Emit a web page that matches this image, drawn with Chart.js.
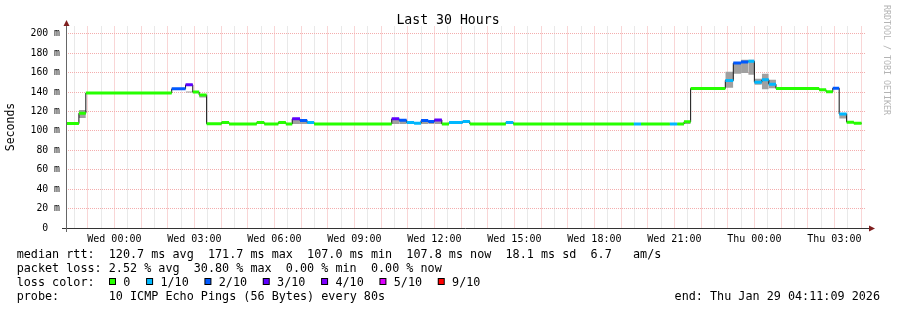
<!DOCTYPE html>
<html><head><meta charset="utf-8">
<script src="https://cdn.jsdelivr.net/npm/chart.js@4"></script>
<style>html,body{margin:0;padding:0;background:#fff;}</style>
</head><body>
<canvas id="c" width="897" height="310"></canvas>
<script>
// ---- time axis (hours relative to Wed 00:00) ----
const timeRange = [-1.814, 28.186];
const timeLabelHours = [0, 3, 6, 9, 12, 15, 18, 21, 24, 27];
const timeLabels = ['Wed 00:00','Wed 03:00','Wed 06:00','Wed 09:00','Wed 12:00','Wed 15:00','Wed 18:00','Wed 21:00','Thu 00:00','Thu 03:00'];

// ---- median RTT segments: boundaries (hours), median (ms), loss (of 10) ----
const segBounds = [-1.79,-1.33,-1.07,2.15,2.67,2.94,3.18,3.46,4.02,4.30,5.34,5.62,6.15,6.43,6.67,6.96,7.23,7.49,
  10.40,10.68,10.96,11.24,11.50,11.77,12.00,12.28,12.55,13.06,13.33,14.68,14.96,15.21,19.48,19.75,20.83,21.11,
  21.36,21.61,22.91,23.21,23.50,23.77,24.00,24.28,24.54,24.81,26.43,26.69,26.94,27.18,27.46,27.73,28.02];
const segMedian = [107.5,118.2,139.0,143.3,147.4,140.0,137.0,107.3,108.6,107.2,108.6,107.2,108.6,107.2,112.4,110.6,108.6,107.2,
  112.4,110.9,108.6,107.9,110.6,109.6,111.3,107.2,108.6,109.6,107.2,108.6,107.2,107.0,107.0,107.0,107.0,107.0,
  109.3,143.6,151.9,169.8,171.0,171.7,150.2,152.6,148.1,143.6,142.3,140.2,144.0,117.5,109.0,107.8];
const segLoss = [0,0,0,2,3,0,0,0,0,0,0,0,0,0,3,2,1,0,
  3,2,1,1,2,2,3,0,1,1,0,1,0,0,1,0,1,0,
  0,0,1,2,2,1,1,1,1,0,0,0,2,1,0,0];
// ---- smoke (spread of the pings) ----
const smokeLo = [null,113.4,null,null,139.5,null,134.5,null,null,null,null,null,null,null,107.2,107.2,107.2,null,
  107.2,107.2,107.2,null,107.2,107.2,107.2,null,107.2,null,null,107.2,null,null,null,null,null,null,
  107.2,null,144.3,158.8,159.5,157.7,147.4,143.0,144.0,null,null,null,null,112.7,null,null];
const smokeHi = [null,121.6,null,null,140.6,null,137.0,null,null,null,null,null,null,null,112.0,110.2,108.4,null,
  112.0,110.5,108.4,null,110.2,109.4,111.0,null,108.4,null,null,108.4,null,null,null,null,null,null,
  109.0,null,160.8,170.1,173.2,173.2,153.6,158.8,152.6,null,null,null,null,117.5,null,null];

// ---- legend ----
const lossLevels = [0,1,2,3,4,5,9];
const lossColors = ['#26ff00','#00b8ff','#0059ff','#5e00ff','#7e00ff','#dd00ff','#ff0000'];
const lossLabels = ['0','1/10','2/10','3/10','4/10','5/10','9/10'];
const titleText = 'Last 30 Hours';
const yTitle = 'Seconds';
const statsLine = 'median rtt:  120.7 ms avg  171.7 ms max  107.0 ms min  107.8 ms now  18.1 ms sd  6.7   am/s';
const lossLine = 'packet loss: 2.52 % avg  30.80 % max  0.00 % min  0.00 % now';
const lossColorLabel = 'loss color:';
const probeLine = 'probe:       10 ICMP Echo Pings (56 Bytes) every 80s';
const endLine = 'end: Thu Jan 29 04:11:09 2026';
const watermark = 'RRDTOOL / TOBI OETIKER';

const MONO = '"DejaVu Sans Mono", monospace';
const RED_GRID = '#f4adad';
const GREY_GRID = '#d3d3d3';

function segPoints(vals) {
  const pts = [];
  for (let i = 0; i < vals.length; i++) {
    if (vals[i] == null) { pts.push({x: segBounds[i], y: null}, {x: segBounds[i+1], y: null}, {x: segBounds[i+1], y: null}); continue; }
    pts.push({x: segBounds[i], y: vals[i]}, {x: segBounds[i+1], y: vals[i]}, {x: segBounds[i+1], y: null});
  }
  return pts;
}
function lossColor(l) { return lossColors[lossLevels.indexOf(l)]; }

const stepPts = segMedian.map((v, i) => ({x: segBounds[i], y: v}));
stepPts.push({x: segBounds[segBounds.length-1], y: segMedian[segMedian.length-1]});

const extras = {
  id: 'extras',
  afterDraw(chart) {
    const ctx = chart.ctx, a = chart.chartArea;
    ctx.save();
    // axes
    ctx.strokeStyle = '#333'; ctx.lineWidth = 1;
    ctx.beginPath(); ctx.moveTo(62, Math.round(a.bottom) + 0.5); ctx.lineTo(869, Math.round(a.bottom) + 0.5); ctx.stroke();
    ctx.strokeStyle = '#666';
    ctx.beginPath(); ctx.moveTo(Math.round(a.left) + 0.5, 25); ctx.lineTo(Math.round(a.left) + 0.5, a.bottom + 4); ctx.stroke();
    // arrows
    ctx.fillStyle = '#7f1f1f';
    const ax = Math.round(a.left) + 0.5, by = Math.round(a.bottom) + 0.5;
    ctx.beginPath(); ctx.moveTo(ax, 20); ctx.lineTo(ax - 3, 26); ctx.lineTo(ax + 3, 26); ctx.closePath(); ctx.fill();
    ctx.beginPath(); ctx.moveTo(875, by); ctx.lineTo(869, by - 3); ctx.lineTo(869, by + 3); ctx.closePath(); ctx.fill();
    // title
    ctx.fillStyle = '#000';
    ctx.font = '13.2px ' + MONO; ctx.textAlign = 'center'; ctx.textBaseline = 'alphabetic';
    ctx.fillText(titleText, 448, 24);
    // y title
    ctx.save(); ctx.translate(11, 127); ctx.rotate(-Math.PI / 2);
    ctx.font = '11.5px ' + MONO; ctx.textAlign = 'center'; ctx.textBaseline = 'middle';
    ctx.fillText(yTitle, 0, 0); ctx.restore();
    // watermark
    ctx.save(); ctx.translate(884, 5); ctx.rotate(Math.PI / 2);
    ctx.font = '8.3px ' + MONO; ctx.fillStyle = '#b4b4b4'; ctx.textAlign = 'left'; ctx.textBaseline = 'alphabetic';
    ctx.fillText(watermark, 0, 0); ctx.restore();
    // legend
    ctx.font = '11.77px ' + MONO; ctx.textAlign = 'left'; ctx.textBaseline = 'alphabetic'; ctx.fillStyle = '#000';
    ctx.fillText(statsLine, 16.7, 258);
    ctx.fillText(lossLine, 16.7, 272);
    ctx.fillText(lossColorLabel, 16.7, 286);
    let x = 109;
    for (let i = 0; i < lossColors.length; i++) {
      ctx.fillStyle = '#000'; ctx.fillRect(x, 278, 7, 7);
      ctx.fillStyle = lossColors[i]; ctx.fillRect(x + 1, 279, 5, 5);
      ctx.fillStyle = '#000'; ctx.fillText(lossLabels[i], x + 14.3, 286);
      x = x + 14.3 + ctx.measureText(lossLabels[i]).width + 15.7;
    }
    ctx.fillText(probeLine, 16.7, 300);
    ctx.textAlign = 'right'; ctx.fillText(endLine, 880, 300);
    ctx.restore();
  }
};

Chart.defaults.font.family = MONO;
new Chart(document.getElementById('c'), {
  type: 'line',
  data: {
    datasets: [
      { data: segPoints(smokeLo), borderWidth: 0, pointRadius: 0, fill: false, order: 4, spanGaps: false },
      { data: segPoints(smokeHi), borderWidth: 0, pointRadius: 0, fill: '-1', backgroundColor: '#a0a0a0', order: 3, spanGaps: false },
      { data: stepPts, stepped: 'before', borderColor: '#111', borderWidth: 1, pointRadius: 0, fill: false, order: 2 },
      { data: segPoints(segMedian), borderWidth: 3, borderCapStyle: 'butt', pointRadius: 0, fill: false, order: 1, spanGaps: false,
        borderColor: '#26ff00',
        segment: { borderColor: c => lossColor(segLoss[Math.floor(c.p0DataIndex / 3)]) } }
    ]
  },
  options: {
    responsive: false, animation: false, devicePixelRatio: 1,
    layout: { padding: { left: 0, right: 31, top: 26.5, bottom: 0 } },
    plugins: { legend: { display: false }, tooltip: { enabled: false }, title: { display: false } },
    scales: {
      x: {
        type: 'linear', min: timeRange[0], max: timeRange[1],
        afterBuildTicks(s) {
          const t = [];
          for (let v = Math.ceil(timeRange[0] * 2) / 2; v <= timeRange[1]; v += 0.5) t.push({ value: v });
          s.ticks = t;
        },
        afterFit(s) { s.height = 82; },
        ticks: {
          autoSkip: false, maxRotation: 0, minRotation: 0, padding: 5, color: '#000',
          font: { size: 10, family: MONO },
          callback: v => { const i = timeLabelHours.indexOf(v); return i >= 0 ? timeLabels[i] : ''; }
        },
        grid: { drawTicks: false, lineWidth: 1, color: c => (c.tick && Number.isInteger(c.tick.value)) ? RED_GRID : GREY_GRID },
        border: { display: false, dash: [1, 1] }
      },
      y: {
        type: 'linear', min: 0, max: 207.5,
        afterBuildTicks(s) { const t = []; for (let v = 0; v <= 200; v += 10) t.push({ value: v }); s.ticks = t; },
        afterFit(s) { s.width = 66; },
        ticks: {
          padding: 6, color: '#000', font: { size: 9.8, family: MONO },
          callback: v => v === 0 ? '0  ' : (v % 20 === 0 ? v + ' m' : '')
        },
        grid: { drawTicks: false, lineWidth: 1, color: c => (c.tick && c.tick.value % 20 === 0) ? RED_GRID : GREY_GRID },
        border: { display: false, dash: [1, 1] }
      }
    }
  },
  plugins: [extras]
});
</script>
</body></html>
